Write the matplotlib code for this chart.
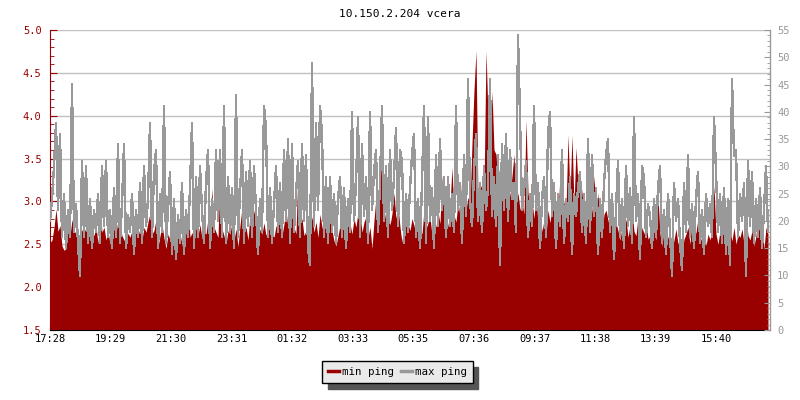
import matplotlib
matplotlib.use("Agg")
import matplotlib.pyplot as plt
from matplotlib.ticker import MultipleLocator

# one sample every 4 minutes, starting 17:28
min_ping = [
    2.52, 2.55, 2.7, 2.91, 2.65, 2.72, 2.48, 2.43, 2.45, 2.68, 2.6, 2.79, 2.66, 2.62, 2.45, 2.58, 2.67, 2.64, 2.69, 2.62, 2.74, 2.66, 2.6, 2.72, 2.5, 2.94, 2.64, 2.7, 2.55, 2.66,
    2.5, 2.58, 2.68, 2.62, 2.79, 2.7, 2.6, 2.55, 2.52, 2.63, 2.58, 2.66, 2.5, 2.72, 2.6, 2.68, 2.55, 2.7, 2.64, 2.76, 2.86, 2.62, 2.66, 2.79, 2.47, 2.6, 2.73, 2.57, 2.45, 2.62,
    2.55, 2.83, 2.6, 2.42, 2.7, 2.62, 2.5, 2.4, 2.66, 2.97, 2.58, 2.64, 2.52, 2.7, 2.6, 2.73, 2.56, 2.66, 2.62, 2.8, 2.6, 3.15, 2.7, 2.64, 2.58, 3.34, 2.68, 2.6, 2.5, 2.66,
    2.62, 2.76, 2.55, 2.68, 2.47, 2.72, 2.93, 2.62, 2.7, 2.55, 2.85, 2.66, 2.9, 2.74, 2.5, 2.68, 2.62, 2.75, 2.6, 2.7, 2.95, 2.66, 2.58, 2.72, 2.65, 2.95, 2.6, 2.74, 2.9, 2.68,
    2.78, 3.44, 2.7, 2.62, 3.38, 2.74, 2.8, 2.6, 2.66, 2.55, 2.7, 2.82, 2.64, 2.76, 2.58, 2.85, 2.7, 2.62, 2.9, 2.72, 3.26, 2.66, 2.54, 2.48, 2.6, 2.72, 3.1, 2.68, 2.62, 2.78,
    2.74, 2.62, 2.8, 2.7, 2.88, 2.85, 2.64, 2.76, 2.82, 2.58, 2.7, 2.45, 2.78, 3.05, 2.84, 3.1, 3.78, 2.9, 2.76, 2.98, 2.72, 2.86, 3.1, 2.8, 2.95, 2.7, 2.52, 2.8, 3.0, 2.74,
    2.66, 2.8, 2.72, 2.6, 2.86, 2.7, 2.62, 2.9, 2.68, 2.75, 2.82, 2.6, 2.78, 2.7, 2.88, 2.74, 3.3, 2.8, 2.9, 2.7, 2.95, 3.4, 2.84, 2.76, 3.0, 2.82, 3.35, 3.52, 2.9, 3.05,
    2.95, 3.68, 4.3, 4.76, 3.0, 3.15, 3.2, 3.1, 4.76, 4.0, 3.5, 4.29, 3.6, 3.55, 3.2, 3.45, 3.0, 3.1, 3.35, 3.4, 3.05, 3.3, 3.55, 2.95, 3.1, 2.9, 3.0, 2.85, 3.95, 3.1,
    2.9, 3.0, 2.8, 3.1, 2.72, 2.86, 2.65, 2.78, 2.6, 2.9, 2.75, 2.95, 3.15, 2.7, 2.85, 3.3, 2.8, 3.0, 2.9, 3.78, 3.05, 3.77, 2.95, 3.63, 3.2, 3.3, 3.1, 2.85, 2.95, 2.8,
    2.75, 2.9, 3.3, 2.8, 3.1, 2.7, 2.62, 2.85, 2.9, 2.78, 2.68, 2.88, 2.6, 2.75, 2.66, 2.55, 2.7, 2.62, 2.8, 2.58, 2.72, 2.9, 2.65, 2.6, 2.82, 2.5, 2.7, 2.62, 2.76, 2.56,
    2.6, 2.52, 2.66, 2.55, 3.05, 2.62, 2.48, 2.7, 2.5, 2.58, 2.64, 2.45, 2.55, 2.68, 2.5, 2.6, 2.42, 2.56, 2.62, 2.7, 2.5, 2.8, 2.58, 2.64, 2.8, 2.52, 2.6, 2.72, 2.48, 2.62,
    2.55, 2.7, 3.18, 2.62, 2.5, 2.66, 2.58, 2.72, 2.46, 2.6, 2.65, 2.54, 2.7, 2.5, 2.62, 2.58, 2.68, 2.5, 2.85, 2.6, 2.55, 2.66, 2.48, 2.6, 2.86, 2.58, 2.66, 2.45, 2.7, 2.62,
]

max_ping = [
    20, 24, 30, 38, 22, 36, 17, 25, 15, 22, 17, 45, 18, 23, 16, 10, 31, 17, 30, 16, 24, 15, 22, 18, 25, 16, 30, 19, 31, 17,
    22, 15, 26, 17, 34, 16, 23, 34, 15, 21, 18, 25, 14, 22, 17, 27, 16, 30, 19, 24, 38, 17, 29, 33, 15, 25, 18, 41, 16, 22,
    29, 14, 24, 13, 21, 16, 27, 14, 22, 17, 26, 38, 15, 28, 17, 30, 22, 16, 27, 33, 15, 24, 18, 33, 20, 33, 17, 41, 16, 28,
    18, 26, 15, 43, 17, 25, 33, 16, 29, 19, 31, 17, 30, 22, 14, 24, 18, 41, 37, 17, 26, 16, 23, 30, 18, 27, 17, 33, 20, 35,
    16, 34, 18, 25, 31, 17, 34, 20, 32, 15, 12, 49, 19, 38, 22, 41, 36, 17, 28, 16, 28, 18, 25, 16, 24, 28, 17, 26, 15, 24,
    18, 40, 20, 27, 39, 17, 34, 21, 28, 16, 40, 22, 29, 33, 18, 27, 41, 20, 30, 17, 33, 22, 28, 37, 19, 33, 31, 16, 25, 18,
    26, 32, 36, 17, 24, 15, 27, 41, 16, 39, 20, 26, 15, 32, 19, 35, 22, 28, 17, 28, 19, 25, 18, 41, 22, 27, 16, 32, 21, 46,
    24, 19, 29, 36, 20, 27, 18, 30, 22, 26, 46, 21, 28, 19, 32, 12, 34, 22, 36, 20, 33, 24, 27, 18, 54, 39, 22, 26, 31, 17,
    25, 19, 41, 22, 27, 15, 24, 28, 17, 36, 40, 21, 27, 15, 25, 19, 33, 16, 24, 20, 28, 14, 25, 21, 26, 29, 18, 25, 16, 35,
    18, 32, 21, 26, 14, 24, 17, 27, 32, 35, 18, 25, 13, 22, 31, 17, 24, 15, 30, 19, 26, 16, 39, 20, 25, 13, 30, 28, 17, 23,
    21, 15, 24, 17, 26, 30, 16, 22, 14, 25, 18, 10, 27, 20, 24, 16, 11, 27, 18, 32, 17, 23, 15, 24, 29, 16, 22, 14, 25, 19,
    23, 17, 39, 29, 18, 25, 16, 26, 14, 24, 12, 46, 32, 33, 17, 25, 20, 27, 10, 31, 19, 29, 16, 24, 17, 26, 15, 22, 30, 18,
]

tick_labels = ['17:28', '19:29', '21:30', '23:31', '01:32', '03:33',
               '05:35', '07:36', '09:37', '11:38', '13:39', '15:40']

step_min = 4
minutes = [i * step_min for i in range(len(min_ping))]


def label_to_minutes(lbl, start='17:28'):
    h, m = map(int, lbl.split(':'))
    h0, m0 = map(int, start.split(':'))
    return ((h * 60 + m) - (h0 * 60 + m0)) % 1440


red = '#990000'
gray = '#999999'
plt.rcParams['font.family'] = ['DejaVu Sans Mono']
plt.rcParams['font.size'] = 7.5

fig = plt.figure(figsize=(8, 4), dpi=100)
ax1 = fig.add_axes([0.0625, 0.175, 0.9, 0.75])
ax2 = ax1.twinx()

ax1.set_axisbelow(True)
ax1.grid(True, axis='y', color='#c0c0c0', linewidth=1)
ax1.fill_between(minutes, min_ping, 1.5, color=red, linewidth=0)
ax2.plot(minutes, max_ping, color=gray, linewidth=1.0, antialiased=False)

ax1.set_xlim(0, len(min_ping) * step_min)
ax1.set_ylim(1.5, 5.0)
ax2.set_ylim(0, 55)

ax1.yaxis.set_major_locator(MultipleLocator(0.5))
ax1.yaxis.set_minor_locator(MultipleLocator(0.1))
ax1.yaxis.set_major_formatter(matplotlib.ticker.FormatStrFormatter('%.1f'))
ax1.tick_params(axis='y', which='both', direction='in', colors=red, labelcolor=red)
ax1.tick_params(axis='y', which='major', length=5, pad=6)
ax1.tick_params(axis='y', which='minor', length=3)

ax2.yaxis.set_major_locator(MultipleLocator(5))
ax2.yaxis.set_minor_locator(MultipleLocator(1))
ax2.tick_params(axis='y', which='both', direction='in', colors=gray, labelcolor=gray)
ax2.tick_params(axis='y', which='major', length=4, pad=5)
ax2.tick_params(axis='y', which='minor', length=2)

ax1.set_xticks([label_to_minutes(l) for l in tick_labels])
ax1.set_xticklabels(tick_labels)
ax1.tick_params(axis='x', direction='in', length=5, pad=3, colors='black')

for ax in (ax1, ax2):
    ax.spines['top'].set_visible(False)
ax1.spines['left'].set_color(red)
ax2.spines['left'].set_visible(False)
ax2.spines['right'].set_color(gray)
ax2.spines['bottom'].set_visible(False)

fig.text(0.5, 0.965, '10.150.2.204 vcera', ha='center', va='center', fontsize=8)

handles = [plt.Line2D([], [], color=red, linewidth=2.5),
           plt.Line2D([], [], color=gray, linewidth=2.5)]
fig.legend(handles, ['min ping', 'max ping'], loc='center', bbox_to_anchor=(0.497, 0.07),
           ncol=2, frameon=True, fancybox=False, edgecolor='black', facecolor='#eaeaea',
           framealpha=1, handlelength=1.0, handletextpad=0.3, columnspacing=0.6,
           borderpad=0.55, fontsize=7.8,
           shadow={'ox': 4, 'oy': -4, 'color': '#555555', 'alpha': 1})

fig.savefig('out.png', dpi=100)
